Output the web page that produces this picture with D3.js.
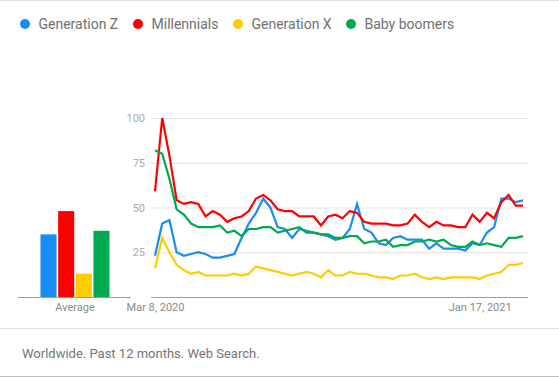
<!DOCTYPE html>
<html><head><meta charset="utf-8">
<script src="https://cdn.jsdelivr.net/npm/d3@7"></script>
<style>
body{margin:0;background:#fff;}
svg{display:block;font-family:Roboto, "Noto Sans", sans-serif;}
</style></head>
<body>
<svg id="c" width="559" height="377"></svg>
<script>
const seriesNames = ["Generation Z", "Millennials", "Generation X", "Baby boomers"];
const seriesColors = ["#1a8cf5", "#ff0000", "#ffcc00", "#00a84f"];
const genZ = [23,41,43,25,23,24,25,24,22,22,23,24,33,41,47,55,50,39,38,33,38,37,36,35,34,32,33,38,52,38,36,30,29,33,34,32,32,32,27,30,27,27,27,26,30,29,36,39,55,55,53,54];
const millennials = [59,100,79,54,52,53,52,45,48,46,42,44,45,48,55,57,54,49,48,48,45,45,45,40,45,46,44,48,47,42,41,41,41,40,40,41,46,42,39,42,40,40,39,39,46,42,47,44,53,57,51,51];
const genX = [16,33,25,18,15,13,14,12,12,12,12,13,12,13,17,16,15,14,13,12,13,14,13,11,15,12,12,14,13,13,12,11,11,10,12,12,13,11,10,11,10,11,11,11,11,10,12,13,14,18,18,19];
const boomers = [82,80,66,49,46,41,39,39,39,40,36,37,34,38,38,39,39,36,37,38,39,36,36,35,35,33,33,34,34,30,31,31,32,28,29,29,31,31,32,31,32,29,28,28,31,29,30,29,28,33,33,34];
const averages = [35, 48, 13, 37];
const yTicks = [25, 50, 75, 100];
const xTickIndex = [0, 45];
const xTickLabels = ["Mar 8, 2020", "Jan 17, 2021"];
const avgLabel = "Average";
const footerText = "Worldwide. Past 12 months. Web Search.";

const series = [genZ, millennials, genX, boomers];
const svg = d3.select("#c");

// top border
svg.append("line").attr("x1",0).attr("x2",559).attr("y1",0.5).attr("y2",0.5).attr("stroke","#e0e0e0");

// legend
const legendX = [25, 138, 238, 351];
const lg = svg.append("g");
seriesNames.forEach((n,i)=>{
  lg.append("circle").attr("cx",legendX[i]).attr("cy",24).attr("r",5).attr("fill",seriesColors[i]);
  lg.append("text").attr("x",legendX[i]+13.5).attr("y",24).attr("dy","0.35em")
    .attr("font-size",14).attr("fill","#707070").text(n);
});

const y = d3.scaleLinear().domain([0,100]).range([297,118]);
const x = d3.scaleLinear().domain([0,genZ.length-1]).range([155,523]);

// gridlines / y axis
const yAxis = d3.axisLeft(y).tickValues(yTicks).tickSize(-(528-151)).tickPadding(6);
const gy = svg.append("g").attr("transform","translate(151,0)").call(yAxis);
gy.select(".domain").remove();
gy.selectAll(".tick line").attr("stroke","#e3e3e3");
gy.selectAll(".tick text").attr("font-size",11).attr("fill","#aaaaaa").attr("font-family","Roboto");

// x axis
const xAxis = d3.axisBottom(x).tickValues(xTickIndex).tickFormat((d,i)=>xTickLabels[i]).tickSize(0).tickPadding(6);
const gx = svg.append("g").attr("transform","translate(0,297)").call(xAxis);
gx.select(".domain").remove();
gx.selectAll(".tick text").attr("font-size",11).attr("fill","#8a8a8a").attr("font-family","Roboto");
svg.append("line").attr("x1",151).attr("x2",528).attr("y1",297.5).attr("y2",297.5).attr("stroke","#9e9e9e");

// average bars
const xb = d3.scaleBand().domain(seriesNames).range([40.5,109.5]).paddingInner(0.09);
svg.selectAll("rect.avg").data(averages).enter().append("rect").attr("class","avg")
  .attr("x",(d,i)=>xb(seriesNames[i])).attr("width",xb.bandwidth())
  .attr("y",d=>y(d)).attr("height",d=>y(0)-y(d)).attr("fill",(d,i)=>seriesColors[i]);
svg.append("line").attr("x1",18).attr("x2",131).attr("y1",297.5).attr("y2",297.5).attr("stroke","#9e9e9e");
svg.append("text").attr("x",75).attr("y",311).attr("text-anchor","middle").attr("font-size",11)
  .attr("fill","#8a8a8a").text(avgLabel);

// lines
const line = d3.line().x((d,i)=>x(i)).y(d=>y(d));
series.forEach((s,i)=>{
  svg.append("path").datum(s).attr("d",line).attr("fill","none")
    .attr("stroke",seriesColors[i]).attr("stroke-width",2.2).attr("stroke-linejoin","miter");
});

// footer
svg.append("line").attr("x1",0).attr("x2",559).attr("y1",328.5).attr("y2",328.5).attr("stroke","#e0e0e0");
svg.append("text").attr("x",22).attr("y",353).attr("dy","0.35em").attr("font-size",13)
  .attr("fill","#757575").text(footerText);
svg.append("line").attr("x1",0).attr("x2",559).attr("y1",376.5).attr("y2",376.5).attr("stroke","#bdbdbd");
</script>
</body></html>
